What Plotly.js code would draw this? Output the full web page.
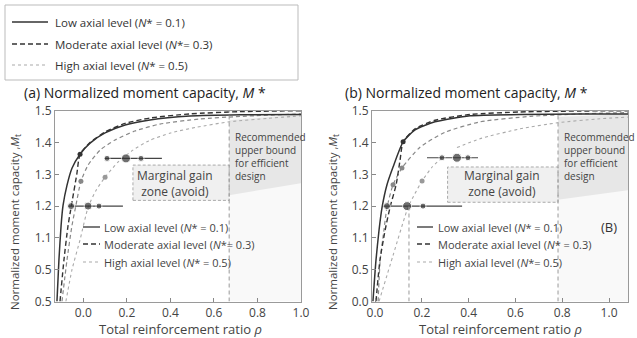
<!DOCTYPE html>
<html><head><meta charset="utf-8">
<script src="https://cdn.plot.ly/plotly-3.0.1.min.js"></script>
<style>html,body{margin:0;padding:0;background:#fff}#c{width:637px;height:338px}</style>
</head><body><div id="c"></div>
<script>
// ---------- Data ----------
// y tick positions are evenly spaced; their printed labels are odd in the source
const yTickVals = [0.9, 1.0, 1.1, 1.2, 1.3, 1.4, 1.5];
const yTickTextA = ["0.5", "0.5", "1.1", "1.2", "1.3", "1.4", "1.5"];
const yTickTextB = ["0.0", "0.5", "1.1", "1.2", "1.3", "1.4", "1.5"];
const xTickVals = [0.0, 0.2, 0.4, 0.6, 0.8, 1.0];
const xTickText = ["0.0", "0.2", "0.4", "0.6", "0.8", "1.0"];

// Panel (a)
const lowA_x = [-0.121,-0.112,-0.102,-0.093,-0.075,-0.052,-0.015,0.031,0.10,0.192,0.306,0.49,0.72,1.0];
const lowA_y = [0.9,1.03,1.139,1.202,1.265,1.319,1.363,1.398,1.43,1.455,1.471,1.483,1.487,1.488];
const modA_x = [-0.107,-0.089,-0.07,-0.05,-0.03,-0.015,0.031,0.10,0.192,0.306,0.49,0.72,1.0];
const modA_y = [0.9,1.03,1.139,1.22,1.30,1.363,1.40,1.433,1.46,1.477,1.49,1.497,1.5];
const mod2A_x = [-0.098,-0.075,-0.052,-0.034,-0.011,0.022,0.077,0.146,0.237,0.352,0.536,0.72,1.0];
const mod2A_y = [0.9,1.03,1.139,1.202,1.278,1.329,1.376,1.408,1.436,1.458,1.474,1.482,1.49];
const highA_x = [-0.08,-0.052,-0.015,0.022,0.059,0.10,0.159,0.228,0.30,0.40,0.52,0.67,0.85,1.0];
const highA_y = [0.9,1.0,1.094,1.196,1.25,1.291,1.338,1.376,1.405,1.43,1.448,1.465,1.476,1.484];
const dotsA_x = [-0.015,-0.011,0.10];
const dotsA_y = [1.363,1.278,1.291];
const dotsA_c = ["#333","#888","#999"];
const rowA1_x = [-0.07,0.182], rowA1_y = [1.2,1.2];
const rowA1_dx = [-0.056,0.022,0.072], rowA1_s = [7,8,6];
const rowA2_x = [0.10,0.361], rowA2_y = [1.35,1.35];
const rowA2_dx = [0.109,0.196,0.265], rowA2_s = [6,9,6];
const boundA = 0.67;
const zoneA = {x0:0.228, x1:0.67, y0:1.218, y1:1.329};

// Panel (b)
const lowB_x = [-0.009,0.004,0.017,0.03,0.051,0.077,0.12,0.171,0.256,0.406,0.62,0.876,1.081];
const lowB_y = [0.9,1.03,1.124,1.196,1.267,1.323,1.402,1.44,1.465,1.484,1.488,1.49,1.49];
const modB_x = [0.004,0.021,0.043,0.064,0.09,0.107,0.12,0.171,0.256,0.406,0.62,0.876,1.081];
const modB_y = [0.9,1.03,1.124,1.196,1.267,1.345,1.402,1.443,1.47,1.488,1.496,1.499,1.5];
const mod2B_x = [0.013,0.022,0.038,0.051,0.077,0.115,0.192,0.299,0.449,0.662,0.876,1.081];
const mod2B_y = [0.9,1.03,1.124,1.196,1.267,1.32,1.385,1.432,1.465,1.482,1.49,1.494];
const highB1_x = [0.017,0.077,0.141,0.171,0.201,0.244,0.286];
const highB1_y = [0.9,1.045,1.196,1.24,1.279,1.323,1.352];
const highB2_x = [0.35,0.449,0.62,0.78,0.95,1.081];
const highB2_y = [1.384,1.412,1.443,1.462,1.474,1.48];
const dotsB_x = [0.12,0.077,0.115,0.201];
const dotsB_y = [1.402,1.267,1.32,1.279];
const dotsB_c = ["#333","#888","#888","#999"];
const rowB1_x = [0.03,0.372], rowB1_y = [1.2,1.2];
const rowB1_dx = [0.051,0.137,0.205], rowB1_s = [7,9,6];
const rowB2_x = [0.222,0.44], rowB2_y = [1.352,1.352];
const rowB2_dx = [0.286,0.35,0.397], rowB2_s = [6,9,6];
const boundB = 0.782;
const refB = 0.145;
const zoneB = {x0:0.31, x1:0.782, y0:1.212, y1:1.323};

const legendNames = ["Low axial level (<i>N</i>* = 0.1)", "Moderate axial level (<i>N</i>*= 0.3)", "High axial level (<i>N</i>* = 0.5)"];
const legendNamesB = ["Low axial level (<i>N</i>* = 0.1)", "Moderate axial level (<i>N</i>* = 0.3)", "High axial level (<i>N</i>*= 0.5)"];

// ---------- Styles ----------
const W = 637, H = 338;
const px = v => v / W, py = v => 1 - v / H;
const DARK = "#333", GRAY = "#888", LIGHT = "#aaa";
const DASH_D = "5px,3px", DASH_G = "4px,3px", DASH_L = "3px,3px";
const FONT = "Open Sans, Noto Sans, sans-serif";

function line(x, y, color, dash, width, xa, ya) {
  return {x, y, xaxis: xa, yaxis: ya, type: "scatter", mode: "lines",
    line: {color, dash, width, shape: "spline", smoothing: 0.6}, hoverinfo: "skip", showlegend: false};
}
function dots(x, y, colors, sizes, xa, ya) {
  return {x, y, xaxis: xa, yaxis: ya, type: "scatter", mode: "markers",
    marker: {color: colors, size: sizes}, hoverinfo: "skip", showlegend: false};
}
function seg(x, y, xa, ya) {
  return {x, y, xaxis: xa, yaxis: ya, type: "scatter", mode: "lines",
    line: {color: "#444", width: 1.2}, hoverinfo: "skip", showlegend: false};
}

const traces = [
  line(highA_x, highA_y, LIGHT, DASH_L, 1.1, "x", "y"),
  line(mod2A_x, mod2A_y, GRAY, DASH_G, 1.2, "x", "y"),
  line(modA_x, modA_y, DARK, DASH_D, 1.4, "x", "y"),
  line(lowA_x, lowA_y, DARK, "solid", 1.5, "x", "y"),
  seg(rowA1_x, rowA1_y, "x", "y"),
  seg(rowA2_x, rowA2_y, "x", "y"),
  dots(rowA1_dx, rowA1_dx.map(() => rowA1_y[0]), "#333", rowA1_s, "x", "y"),
  dots(rowA2_dx, rowA2_dx.map(() => rowA2_y[0]), "#333", rowA2_s, "x", "y"),
  dots(dotsA_x, dotsA_y, dotsA_c, 5, "x", "y"),

  line(highB1_x, highB1_y, LIGHT, DASH_L, 1.1, "x2", "y2"),
  line(highB2_x, highB2_y, LIGHT, DASH_L, 1.1, "x2", "y2"),
  line(mod2B_x, mod2B_y, GRAY, DASH_G, 1.2, "x2", "y2"),
  line(modB_x, modB_y, DARK, DASH_D, 1.4, "x2", "y2"),
  line(lowB_x, lowB_y, DARK, "solid", 1.5, "x2", "y2"),
  seg(rowB1_x, rowB1_y, "x2", "y2"),
  seg(rowB2_x, rowB2_y, "x2", "y2"),
  dots(rowB1_dx, rowB1_dx.map(() => rowB1_y[0]), "#333", rowB1_s, "x2", "y2"),
  dots(rowB2_dx, rowB2_dx.map(() => rowB2_y[0]), "#333", rowB2_s, "x2", "y2"),
  dots(dotsB_x, dotsB_y, dotsB_c, 5, "x2", "y2")
];

const axisCommon = {showline: true, mirror: true, linecolor: "#9a9a9a", linewidth: 1,
  ticks: "inside", ticklen: 4, tickcolor: "#888", showgrid: false, zeroline: false,
  tickfont: {family: FONT, size: 12, color: "#444"}, fixedrange: true};

const shapes = [];
const annotations = [];
function ann(o) { annotations.push({showarrow: false, xanchor: "center", yanchor: "middle", ...o}); }

// shaded recommended regions
shapes.push({type: "rect", xref: "x", yref: "y", x0: boundA, x1: 1.0, y0: 0.9, y1: 1.5, fillcolor: "rgba(0,0,0,0.025)", line: {width: 0}, layer: "below"});
shapes.push({type: "path", xref: "x", yref: "y", path: `M ${boundA},1.234 L 1.0,1.272 L 1.0,1.488 L ${boundA},1.47 Z`, fillcolor: "rgba(0,0,0,0.07)", line: {width: 0}, layer: "below"});
shapes.push({type: "rect", xref: "x2", yref: "y2", x0: boundB, x1: 1.081, y0: 0.9, y1: 1.5, fillcolor: "rgba(0,0,0,0.025)", line: {width: 0}, layer: "below"});
shapes.push({type: "path", xref: "x2", yref: "y2", path: `M ${boundB},1.22 L 1.081,1.25 L 1.081,1.49 L ${boundB},1.48 Z`, fillcolor: "rgba(0,0,0,0.07)", line: {width: 0}, layer: "below"});

// marginal gain zones
shapes.push({type: "rect", xref: "x", yref: "y", ...zoneA, fillcolor: "rgba(0,0,0,0.06)", line: {color: "#aaa", width: 1, dash: "3px,2px"}, layer: "below"});
shapes.push({type: "rect", xref: "x2", yref: "y2", ...zoneB, fillcolor: "rgba(0,0,0,0.06)", line: {color: "#aaa", width: 1, dash: "3px,2px"}, layer: "below"});

// bound lines
shapes.push({type: "line", xref: "x", yref: "y", x0: boundA, x1: boundA, y0: 0.9, y1: 1.5, line: {color: "#999", width: 1, dash: "4px,3px"}});
shapes.push({type: "line", xref: "x2", yref: "y2", x0: boundB, x1: boundB, y0: 0.9, y1: 1.5, line: {color: "#999", width: 1, dash: "4px,3px"}});
shapes.push({type: "line", xref: "x2", yref: "y2", x0: refB, x1: refB, y0: 0.9, y1: 1.2, line: {color: "#999", width: 1, dash: "4px,3px"}});

const tFont = {family: FONT, size: 10, color: "#444"};
ann({xref: "x", yref: "y", x: boundA + 0.018, y: 1.357, xanchor: "left", align: "left", font: tFont, text: "Recommended<br>upper bound<br>for efficient<br>design"});
ann({xref: "x2", yref: "y2", x: boundB + 0.017, y: 1.356, xanchor: "left", align: "left", font: tFont, text: "Recommended<br>upper bound<br>for efficient<br>design"});
const zFont = {family: FONT, size: 12, color: "#444"};
ann({xref: "x", yref: "y", x: 0.423, y: 1.272, font: zFont, text: "Marginal gain<br>zone (avoid)"});
ann({xref: "x2", yref: "y2", x: 0.543, y: 1.27, font: zFont, text: "Marginal gain<br>zone (avoid)"});

// in-plot legends
const legStyles = [[DARK, "solid", 1.3], [DARK, DASH_D, 1.3], [LIGHT, DASH_L, 1.2]];
const rowsY = [227, 244, 262];
function inLegend(x0, x1, tx, names) {
  rowsY.forEach((yy, i) => {
    shapes.push({type: "line", xref: "paper", yref: "paper", x0: px(x0), x1: px(x1), y0: py(yy), y1: py(yy), line: {color: legStyles[i][0], dash: legStyles[i][1], width: legStyles[i][2]}});
    ann({xref: "paper", yref: "paper", x: px(tx), y: py(yy), xanchor: "left", font: {family: FONT, size: 11, color: "#444"}, text: names[i]});
  });
}
inLegend(83, 100, 102, legendNames);
inLegend(417, 433, 436, legendNamesB);
ann({xref: "paper", yref: "paper", x: px(609), y: py(227), font: {family: FONT, size: 13, color: "#333"}, text: "(B)"});

// top legend box
shapes.push({type: "rect", xref: "paper", yref: "paper", x0: px(5), x1: px(298), y0: py(5), y1: py(80), line: {color: "#bbb", width: 1}, fillcolor: "rgba(0,0,0,0)"});
const topRows = [22, 44, 65];
topRows.forEach((yy, i) => {
  shapes.push({type: "line", xref: "paper", yref: "paper", x0: px(12), x1: px(48), y0: py(yy), y1: py(yy), line: {color: legStyles[i][0], dash: legStyles[i][1], width: legStyles[i][2]}});
  ann({xref: "paper", yref: "paper", x: px(53), y: py(yy), xanchor: "left", font: {family: FONT, size: 11.5, color: "#333"}, text: legendNames[i]});
});

// panel titles
ann({xref: "paper", yref: "paper", x: px(22), y: py(93), xanchor: "left", font: {family: FONT, size: 14, color: "#222"}, text: "(a) Normalized moment capacity, <i>M</i> *"});
ann({xref: "paper", yref: "paper", x: px(343), y: py(93), xanchor: "left", font: {family: FONT, size: 14, color: "#222"}, text: "(b) Normalized moment capacity, <i>M</i> *"});

// axis titles
const axT = {family: FONT, size: 11.5, color: "#444"};
ann({xref: "paper", yref: "paper", x: px(15), y: py(222), textangle: -90, font: axT, text: "Normalized moment capacity ,<i>M</i><sub>t</sub>"});
ann({xref: "paper", yref: "paper", x: px(333), y: py(222), textangle: -90, font: axT, text: "Normalized moment capacity ,<i>M</i><sub>t</sub>"});
ann({xref: "paper", yref: "paper", x: px(180), y: py(329), font: {family: FONT, size: 13, color: "#444"}, text: "Total reinforcement ratio <i>ρ</i>"});
ann({xref: "paper", yref: "paper", x: px(500), y: py(329), font: {family: FONT, size: 13, color: "#444"}, text: "Total reinforcement ratio <i>ρ</i>"});

const layout = {
  width: W, height: H, margin: {l: 0, r: 0, t: 0, b: 0},
  paper_bgcolor: "#fff", plot_bgcolor: "#fff", showlegend: false,
  font: {family: FONT},
  xaxis: {...axisCommon, domain: [px(55), px(301)], range: [-0.13, 1.0], tickvals: xTickVals, ticktext: xTickText, anchor: "y"},
  yaxis: {...axisCommon, domain: [1 - 301.5 / H, 1 - 110.7 / H], range: [0.9, 1.5], tickvals: yTickVals, ticktext: yTickTextA, anchor: "x"},
  xaxis2: {...axisCommon, domain: [px(372), px(628)], range: [-0.013, 1.081], tickvals: xTickVals, ticktext: xTickText, anchor: "y2"},
  yaxis2: {...axisCommon, domain: [1 - 301.5 / H, 1 - 110.7 / H], range: [0.9, 1.5], tickvals: yTickVals, ticktext: yTickTextB, anchor: "x2"},
  shapes, annotations
};
Plotly.newPlot("c", traces, layout, {staticPlot: true, displayModeBar: false});
</script></body></html>
